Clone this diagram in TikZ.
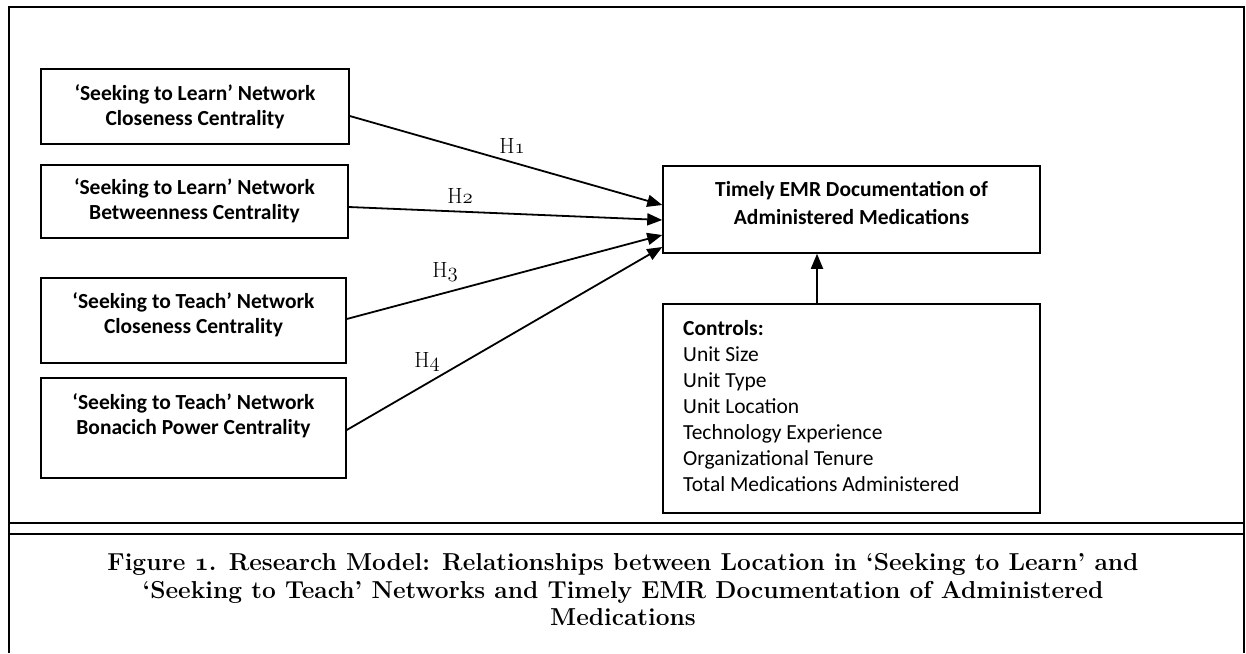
\documentclass[tikz,border=0pt]{standalone}
\usepackage{fontspec}
\newfontfamily\calib{Carlito}
\usetikzlibrary{arrows.meta}
\newcommand{\osn}[1]{$\mathnormal{#1}$}
\tikzset{
  box/.style={draw, line width=1.5pt, inner sep=0pt},
  btxt/.style={font=\calib\bfseries\fontsize{21.5}{25}\selectfont, align=center, inner sep=0pt},
  ctxt/.style={font=\calib\fontsize{21.5}{26}\selectfont, align=left, inner sep=0pt},
  hlab/.style={font=\fontsize{22}{24}\selectfont, anchor=base, inner sep=0pt},
  conn/.style={line width=1.8pt, -{Triangle[length=15pt,width=12pt]}},
  frame/.style={line width=2pt}
}
\begin{document}
\begin{tikzpicture}[x=1pt,y=-1pt]
\useasboundingbox (0,0) rectangle (1246,653);
% outer frame
\draw[frame] (9,653) -- (9,7) -- (1244,7) -- (1244,653);
\draw[frame] (9,523) -- (1244,523);
\draw[frame] (9,534) -- (1244,534);
% left boxes
\node[box, minimum width=308pt, minimum height=75pt] (b1) at (195,106.5) {};
\node[btxt] (b1t) at (195,106.5) {‘Seeking to Learn’ Network\\Closeness Centrality};
\node[box, minimum width=307pt, minimum height=73pt] (b2) at (194.5,201.5) {};
\node[btxt] (b2t) at (194.5,201) {‘Seeking to Learn’ Network\\Betweenness Centrality};
\node[box, minimum width=305pt, minimum height=85pt] (b3) at (193.5,320.5) {};
\node[btxt] (b3t) at (193.5,315) {‘Seeking to Teach’ Network\\Closeness Centrality};
\node[box, minimum width=305pt, minimum height=100pt] (b4) at (193.5,428) {};
\node[btxt] (b4t) at (193.5,416) {‘Seeking to Teach’ Network\\Bonacich Power Centrality};
% target
\node[box, minimum width=377pt, minimum height=87pt] (tg) at (851.5,209.5) {};
\node[btxt, font=\calib\bfseries\fontsize{21.5}{27.5}\selectfont] (tgt) at (851.5,203) {Timely EMR Documentation of\\Administered Medications};
% controls
\node[box, minimum width=377pt, minimum height=209pt] (ct) at (851.5,408.5) {};
\node[ctxt, anchor=west] (ctt) at (683,406) {\textbf{Controls:}\\Unit Size\\Unit Type\\Unit Location\\Technology Experience\\Organizational Tenure\\Total Medications Administered};
% arrows
\draw[conn] ([yshift=-9.5pt]b1.east) -- ([yshift=4.5pt]tg.west);
\draw[conn] ([yshift=-5.5pt]b2.east) -- ([yshift=-10.5pt]tg.west);
\draw[conn] ([yshift=1.5pt]b3.east) -- ([yshift=-25.5pt]tg.west);
\draw[conn] ([yshift=-2pt]b4.east) -- ([yshift=-37.5pt]tg.west);
\draw[conn] ([xshift=-34.5pt]ct.north) -- ([xshift=-34.5pt]tg.south);
% labels
\node[hlab] (h1) at (512,153) {H\osn{1}};
\node[hlab] (h2) at (460,203) {H\osn{2}};
\node[hlab] (h3) at (445,277) {H\osn{3}};
\node[hlab] (h4) at (427,367) {H\osn{4}};
% caption
\node[font=\bfseries\boldmath\fontsize{24.5}{27.5}\selectfont, align=center, inner sep=0pt] (cap) at (623,590) {Figure \osn{1}. Research Model: Relationships between Location in ‘Seeking to Learn’ and\\‘Seeking to Teach’ Networks and Timely EMR Documentation of Administered\\Medications};
\end{tikzpicture}
\end{document}
